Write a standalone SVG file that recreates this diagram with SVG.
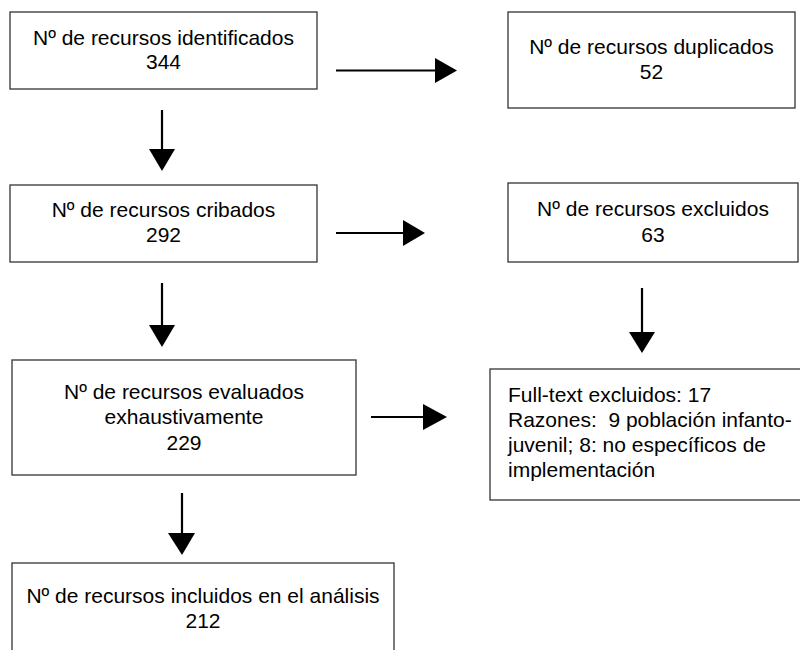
<svg xmlns="http://www.w3.org/2000/svg" width="800" height="650" viewBox="0 0 800 650">
<style>
.box{fill:#fff;stroke:#333;stroke-width:1.3}
.t{font-family:"Liberation Sans",Arial,sans-serif;font-size:21px;fill:#000}
.c{text-anchor:middle}
.ln{stroke:#000;stroke-width:2.2;fill:none}
.hd{fill:#000}
</style>
<rect width="800" height="650" fill="#fff"/>
<g id="n1"><rect class="box" x="10" y="12" width="307" height="77"/>
<text class="t c" x="163.5" y="45">Nº de recursos identificados</text><text class="t c" x="163.5" y="69">344</text></g>
<g id="n2"><rect class="box" x="508" y="12" width="287" height="96"/>
<text class="t c" x="651.5" y="54">Nº de recursos duplicados</text><text class="t c" x="651.5" y="79">52</text></g>
<g id="n3"><rect class="box" x="10" y="185" width="307" height="77"/>
<text class="t c" x="163.5" y="217">Nº de recursos cribados</text><text class="t c" x="163.5" y="242">292</text></g>
<g id="n4"><rect class="box" x="508" y="183" width="290" height="79"/>
<text class="t c" x="653" y="216">Nº de recursos excluidos</text><text class="t c" x="653" y="242">63</text></g>
<g id="n5"><rect class="box" x="12" y="360" width="344" height="115"/>
<text class="t c" x="184" y="399">Nº de recursos evaluados</text><text class="t c" x="184" y="424">exhaustivamente</text><text class="t c" x="184" y="450">229</text></g>
<g id="n6"><rect class="box" x="490" y="369" width="320" height="131"/>
<text class="t" x="508" y="402">Full-text excluidos: 17</text><text class="t" x="508" y="427" xml:space="preserve">Razones:  9 población infanto-</text><text class="t" x="508" y="452">juvenil; 8: no específicos de</text><text class="t" x="508" y="477">implementación</text></g>
<g id="n7"><rect class="box" x="12" y="563" width="382" height="100"/>
<text class="t c" x="203" y="603">Nº de recursos incluidos en el análisis</text><text class="t c" x="203" y="628">212</text></g>
<g id="connectors">
<line class="ln" x1="336" y1="70.5" x2="437" y2="70.5"/><polygon class="hd" points="435,58 457,70.5 435,83"/>
<line class="ln" x1="162" y1="110" x2="162" y2="151"/><polygon class="hd" points="149,149 175,149 162,171"/>
<line class="ln" x1="336" y1="233" x2="405" y2="233"/><polygon class="hd" points="403,220 425,233 403,246"/>
<line class="ln" x1="642" y1="288" x2="642" y2="334"/><polygon class="hd" points="629,332 655,332 642,353"/>
<line class="ln" x1="162" y1="283" x2="162" y2="327"/><polygon class="hd" points="149,325 175,325 162,347"/>
<line class="ln" x1="371" y1="417" x2="425" y2="417"/><polygon class="hd" points="423,404 447,417 423,430"/>
<line class="ln" x1="182" y1="493" x2="182" y2="535"/><polygon class="hd" points="168,533 195,533 182,555"/>
</g>
</svg>
